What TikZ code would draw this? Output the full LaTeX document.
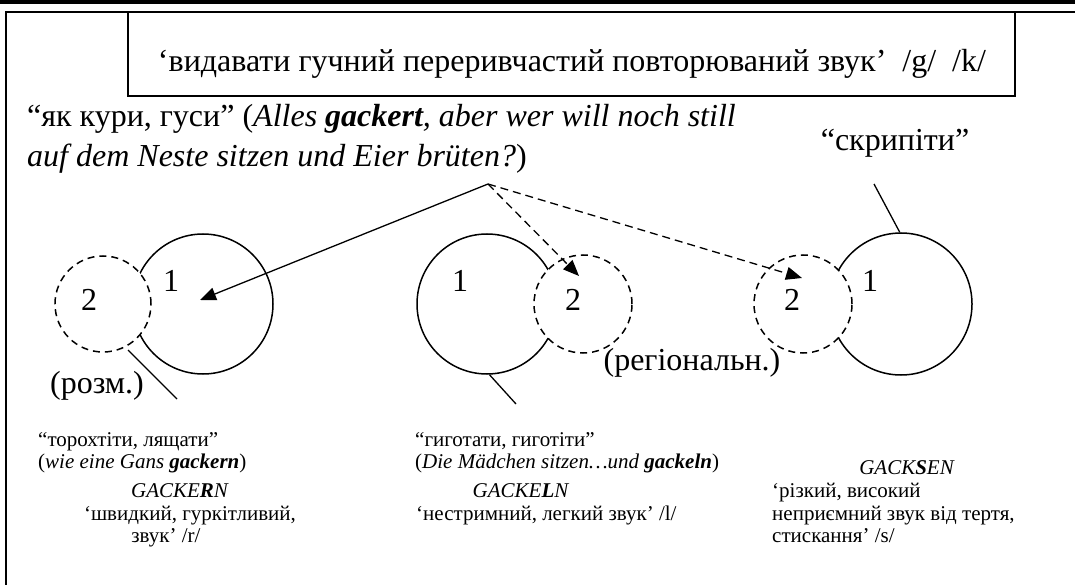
\documentclass[tikz,border=0pt]{standalone}
\usepackage{fontspec}
\setmainfont{Liberation Serif}
\usetikzlibrary{arrows.meta}
\begin{document}
\begin{tikzpicture}[x=1pt,y=-1pt,
  big/.style={font=\fontsize{32}{36}\selectfont, inner sep=0pt},
  small/.style={font=\fontsize{21}{24}\selectfont, inner sep=0pt},
  solidc/.style={circle, draw, line width=1.5pt, inner sep=0pt},
  dashc/.style={circle, draw, dash pattern=on 7pt off 5pt, line width=1.5pt, fill=white, inner sep=0pt},
  arr/.style={line width=1.3pt, -{Triangle[length=16pt,width=13pt]}},
  darr/.style={arr, dash pattern=on 8pt off 5pt},
  lead/.style={line width=1.3pt}]
\useasboundingbox (0,0) rectangle (1075,585);
\fill (0,0) rectangle (1075,4);
\draw[line width=1.5pt] (6,585) -- (6,12) -- (1075,12);
% title box
\node[draw, line width=1.3pt, minimum width=887pt, minimum height=84pt, inner sep=0pt] (title) at (571.5,54) {};
\node[big, anchor=base] (titletext) at (572,72) {‘видавати гучний переривчастий повторюваний звук’\ \ /g/\ \ /k/};
% quote
\node[big, anchor=base west] (q1) at (27,127) {“як кури, гуси” (\textit{Alles \textbf{gackert}, aber wer will noch still}};
\node[big, anchor=base west] (q2) at (27,167) {\textit{auf dem Neste sitzen und Eier brüten?})};
\node[big, anchor=base] (skr) at (895,151) {“скрипіти”};
% circles
\node[solidc, minimum size=140pt] (c1) at (203,304) {};
\node[solidc, minimum size=140pt] (c3) at (487,304) {};
\node[solidc, minimum size=142pt] (c5) at (901,304) {};
\node[dashc, minimum size=96pt] (c2) at (103,304) {};
\node[dashc, minimum size=98pt] (c4) at (583,304) {};
\node[dashc, minimum size=98pt] (c6) at (803,304) {};
% labels
\node[big] (l1a) at (171,281) {1};
\node[big] (l2a) at (89,300) {2};
\node[big] (l1b) at (460,281) {1};
\node[big] (l2b) at (573,300) {2};
\node[big] (l1c) at (870,281) {1};
\node[big] (l2c) at (792,300) {2};
\node[big] (rozm) at (97,386) {(розм.)};
\node[big] (reg) at (692,363) {(регіональн.)};
% arrows
\coordinate (apex) at (488,184);
\coordinate (t1) at (200,300);
\coordinate (t2) at (579,276);
\coordinate (t3) at (802,278);
\draw[arr] (apex) -- (t1);
\draw[darr] (apex) -- (t2);
\draw[darr] (apex) -- (t3);
% leader lines
\coordinate (s1) at (128,350);
\coordinate (e1) at (177,399);
\coordinate (e2) at (516,404);
\coordinate (e3) at (874,184);
\draw[lead] (s1) -- (e1);
\draw[lead] (c3.-88) -- (e2);
\draw[lead] (c5.91) -- (e3);
% bottom texts
\node[small, anchor=base west] (a1) at (38,446) {“торохтіти, лящати”};
\node[small, anchor=base west] (a2) at (38,468) {(\textit{wie eine Gans \textbf{gackern}})};
\node[small, anchor=base] (a3) at (180,497) {\textit{GACKE\textbf{R}N}};
\node[small, anchor=base] (a4) at (190,520) {‘швидкий, гуркітливий,};
\node[small, anchor=base] (a5) at (166,542) {звук’ /r/};
\node[small, anchor=base west] (b1) at (415,446) {“гиготати, гиготіти”};
\node[small, anchor=base west] (b2) at (415,468) {(\textit{Die Mädchen sitzen…und \textbf{gackeln}})};
\node[small, anchor=base] (b3) at (521,497) {\textit{GACKE\textbf{L}N}};
\node[small, anchor=base west] (b4) at (416,520) {‘нестримний, легкий звук’ /l/};
\node[small, anchor=base] (d1) at (907,474) {\textit{GACK\textbf{S}EN}};
\node[small, anchor=base west] (d2) at (772,497) {‘різкий, високий};
\node[small, anchor=base west] (d3) at (772,520) {неприємний звук від тертя,};
\node[small, anchor=base west] (d4) at (772,542) {стискання’ /s/};
\end{tikzpicture}
\end{document}
